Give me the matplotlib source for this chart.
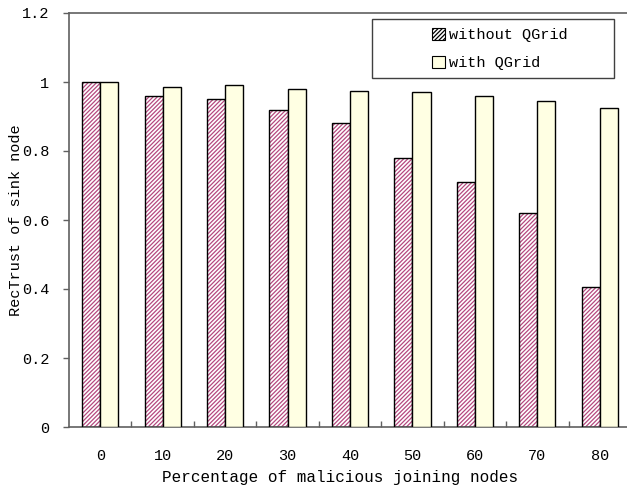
import matplotlib
matplotlib.use("Agg")
import matplotlib.pyplot as plt
import numpy as np

# ── Data ──────────────────────────────────────────────────────────────────────
categories = ["0", "10", "20", "30", "40", "50", "60", "70", "80"]
without_qgrid = [1.0, 0.96, 0.95, 0.92, 0.88, 0.78, 0.71, 0.62, 0.405]
with_qgrid = [1.0, 0.985, 0.99, 0.98, 0.975, 0.97, 0.96, 0.945, 0.925]
y_ticks = [0, 0.2, 0.4, 0.6, 0.8, 1.0, 1.2]
y_ticklabels = ["0", "0.2", "0.4", "0.6", "0.8", "1", "1.2"]

HATCH_C = "#B5487F"
YELLOW = "#FFFFE3"
AXIS_C = "#606060"
FONT = "Liberation Mono"

plt.rcParams["font.family"] = [FONT, "DejaVu Sans Mono"]
plt.rcParams["hatch.linewidth"] = 0.9

W, H = 627, 486
fig = plt.figure(figsize=(W / 100, H / 100), dpi=100, facecolor="white")
ax = fig.add_axes([69 / W, (H - 427) / H, (631 - 69) / W, (427 - 13) / H])

x = np.arange(len(categories))
bw = 0.29

# hatched series: hatch pass, then black outline
ax.bar(x - bw / 2, without_qgrid, bw, color="white", edgecolor=HATCH_C,
       hatch="////////", linewidth=0, zorder=2, label="without QGrid")
ax.bar(x - bw / 2, without_qgrid, bw, fill=False, edgecolor="black",
       linewidth=1.0, zorder=3)
ax.bar(x + bw / 2, with_qgrid, bw, color=YELLOW, edgecolor="black",
       linewidth=1.0, zorder=3, label="with QGrid")

ax.set_xlim(-0.5, len(categories) - 0.5)
ax.set_ylim(0, 1.2)

# y axis: outward ticks
ax.set_yticks(y_ticks)
ax.set_yticklabels(y_ticklabels, fontsize=11)
ax.tick_params(axis="y", direction="out", length=4, width=1, color=AXIS_C, pad=10)

# x axis: category labels, tick marks at group boundaries pointing in
ax.set_xticks(x)
ax.set_xticklabels(categories, fontsize=11)
ax.tick_params(axis="x", length=0, pad=21)
ax.set_xticks(np.arange(0.5, len(categories) - 0.5, 1), minor=True)
ax.tick_params(axis="x", which="minor", direction="in", length=4, width=1,
               color=AXIS_C)
for t in ax.get_xticklabels():
    t.set_va("center")

for side in ("left", "bottom", "top"):
    ax.spines[side].set_color(AXIS_C)
    ax.spines[side].set_linewidth(1.2)
ax.spines["right"].set_visible(False)

ax.set_xlabel("Percentage of malicious joining nodes", fontsize=11.5)
ax.set_ylabel("RecTrust of sink node", fontsize=11)
ax.xaxis.set_label_coords((340 - 69) / 562, (427 - 477) / 414)
ax.yaxis.set_label_coords((16 - 69) / 562, 0.5)
ax.xaxis.label.set_va("center")
ax.yaxis.label.set_va("center")

# legend with a wide manual frame
fig.patches.append(plt.Rectangle((372 / W, (H - 78) / H), (614 - 372) / W, (78 - 19) / H,
                                 transform=fig.transFigure, fc="white",
                                 ec="#404040", lw=1.0, zorder=5))
leg = fig.legend(loc="center", bbox_to_anchor=(500 / W, (H - 49) / H),
                 frameon=False, fontsize=11, handlelength=0.8, handleheight=0.8,
                 handletextpad=0.3, labelspacing=0.9)
leg.set_zorder(6)
for h in leg.legend_handles:
    h.set_edgecolor("black")
    h.set_linewidth(0.8)

fig.savefig("out.png", dpi=100, facecolor="white")
